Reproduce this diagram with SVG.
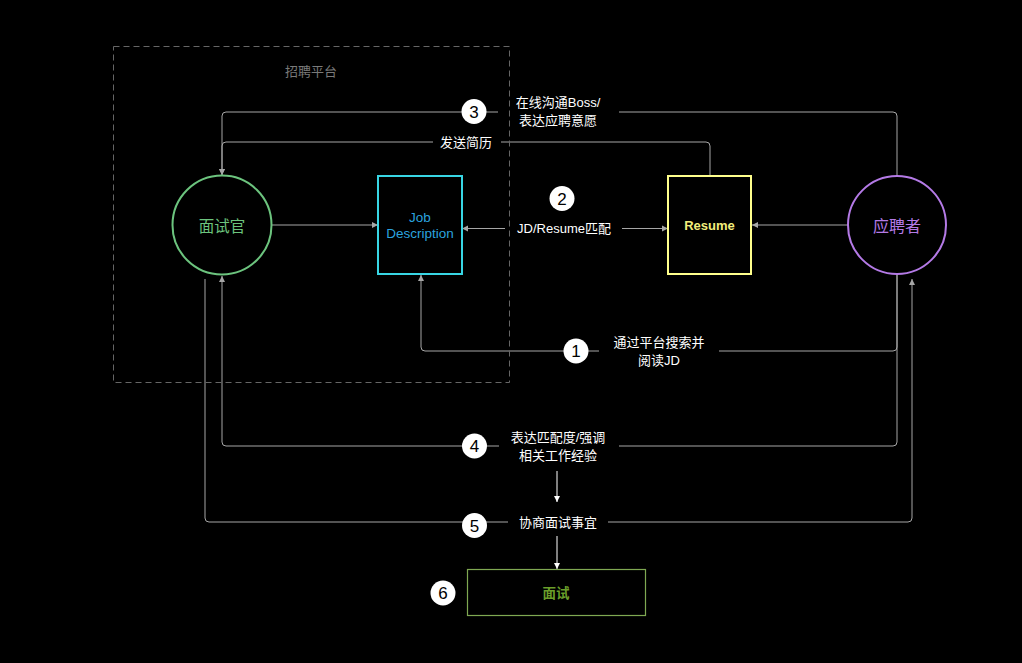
<svg xmlns="http://www.w3.org/2000/svg" width="1022" height="663" viewBox="0 0 1022 663">
<style>
.ln{fill:none;stroke:#a6a6a6;stroke-width:1}
.wl{fill:none;stroke:#ffffff;stroke-width:1}
.lbl{font-family:"Liberation Sans","Noto Sans CJK SC",sans-serif;font-size:13px;fill:#ffffff;text-anchor:middle;dominant-baseline:central}
.num{font-family:"Liberation Sans","Noto Sans CJK SC",sans-serif;font-size:17px;fill:#000000;text-anchor:middle;dominant-baseline:central}
.bg{fill:#000000}
.nt{font-family:"Liberation Sans","Noto Sans CJK SC",sans-serif;text-anchor:middle;dominant-baseline:central}
</style>
<defs>
<marker id="ag" viewBox="0 0 10 10" refX="10" refY="5" markerWidth="6" markerHeight="10" markerUnits="userSpaceOnUse" orient="auto"><path d="M0,0 L10,5 L0,10 Z" fill="#a6a6a6"/></marker>
<marker id="aw" viewBox="0 0 10 10" refX="10" refY="5" markerWidth="6" markerHeight="10" markerUnits="userSpaceOnUse" orient="auto"><path d="M0,0 L10,5 L0,10 Z" fill="#ffffff"/></marker>
</defs>
<rect width="1022" height="663" fill="#000000"/>

<g id="connectors">
<path class="ln" d="M897,176 V116 Q897,112 893,112 H226 Q222,112 222,116 V175" marker-end="url(#ag)"/>
<path class="ln" d="M710,176 V146 Q710,142 706,142 H226 Q222,142 222,146 V175" marker-end="url(#ag)"/>
<path class="ln" d="M272,225 H378" marker-end="url(#ag)"/>
<path class="ln" d="M565,228.5 H462" marker-end="url(#ag)"/>
<path class="ln" d="M565,228.5 H668" marker-end="url(#ag)"/>
<path class="ln" d="M848,225 H752" marker-end="url(#ag)"/>
<path class="ln" d="M897,274 V347 Q897,351 893,351 H425 Q421,351 421,347 V275" marker-end="url(#ag)"/>
<path class="ln" d="M897,274 V442 Q897,446 893,446 H226 Q222,446 222,442 V276" marker-end="url(#ag)"/>
<path class="ln" d="M205,279 V518 Q205,522 209,522 H908 Q912,522 912,518 V279" marker-end="url(#ag)"/>
<path class="wl" d="M557,471 V502" marker-end="url(#aw)"/>
<path class="wl" d="M557,536 V569" marker-end="url(#aw)"/>

<rect class="bg" x="498" y="94" width="121" height="36"/>
<rect class="bg" x="433" y="134" width="68" height="16"/>
<rect class="bg" x="505" y="220" width="117" height="17"/>
<rect class="bg" x="599" y="333" width="120" height="36"/>
<rect class="bg" x="499" y="428" width="120" height="36"/>
<rect class="bg" x="508" y="513" width="100" height="18"/>

<text class="lbl" x="558" y="102.5">在线沟通Boss/</text>
<text class="lbl" x="558" y="120.5">表达应聘意愿</text>
<text class="lbl" x="466" y="142">发送简历</text>
<text class="lbl" x="564" y="228.5">JD/Resume匹配</text>
<text class="lbl" x="659" y="342">通过平台搜索并</text>
<text class="lbl" x="659" y="360">阅读JD</text>
<text class="lbl" x="558" y="437.5">表达匹配度/强调</text>
<text class="lbl" x="558" y="455.5">相关工作经验</text>
<text class="lbl" x="558" y="522">协商面试事宜</text>

<circle cx="474" cy="111.5" r="12.5" fill="#ffffff"/><text class="num" x="474" y="112">3</text>
<circle cx="562" cy="198.5" r="12.5" fill="#ffffff"/><text class="num" x="562" y="199">2</text>
<circle cx="576" cy="351" r="12.5" fill="#ffffff"/><text class="num" x="576" y="351.5">1</text>
<circle cx="474.5" cy="446" r="12.5" fill="#ffffff"/><text class="num" x="474.5" y="446.5">4</text>
<circle cx="474.5" cy="525.5" r="12.5" fill="#ffffff"/><text class="num" x="474.5" y="526">5</text>
<circle cx="443" cy="593" r="12.5" fill="#ffffff"/><text class="num" x="443" y="593.5">6</text>
</g>

<g id="platform">
<rect x="113.5" y="46.5" width="396" height="336" fill="none" stroke="#666666" stroke-width="1" stroke-dasharray="6,4"/>
<text class="nt" x="311" y="71" font-size="13" fill="#7a7a7a">招聘平台</text>
</g>

<g id="interviewer">
<circle cx="222" cy="225" r="49.5" fill="#000000" stroke="#6cc47e" stroke-width="2"/>
<text class="nt" x="222" y="226" font-size="15.5" fill="#6cc47e">面试官</text>
</g>

<g id="jd">
<rect x="378" y="176" width="84" height="98" fill="#000000" stroke="#38d6e4" stroke-width="2"/>
<text class="nt" x="420" y="217.5" font-size="13.5" fill="#2ba3df">Job</text>
<text class="nt" x="420" y="233.5" font-size="13.5" fill="#2ba3df">Description</text>
</g>

<g id="resume">
<rect x="668" y="176" width="83" height="98" fill="#000000" stroke="#ffff8c" stroke-width="2"/>
<text class="nt" x="709.5" y="225" font-size="13" font-weight="bold" fill="#f2ee7c">Resume</text>
</g>

<g id="applicant">
<circle cx="897" cy="225" r="49" fill="#000000" stroke="#b47ae6" stroke-width="2"/>
<text class="nt" x="897" y="226" font-size="16" fill="#b47ae6">应聘者</text>
</g>

<g id="interview">
<rect x="467.5" y="569.5" width="178" height="46" fill="#000000" stroke="#7fa852" stroke-width="1.2"/>
<text class="nt" x="556" y="593" font-size="13.5" font-weight="bold" fill="#6a9e2a">面试</text>
</g>
</svg>
